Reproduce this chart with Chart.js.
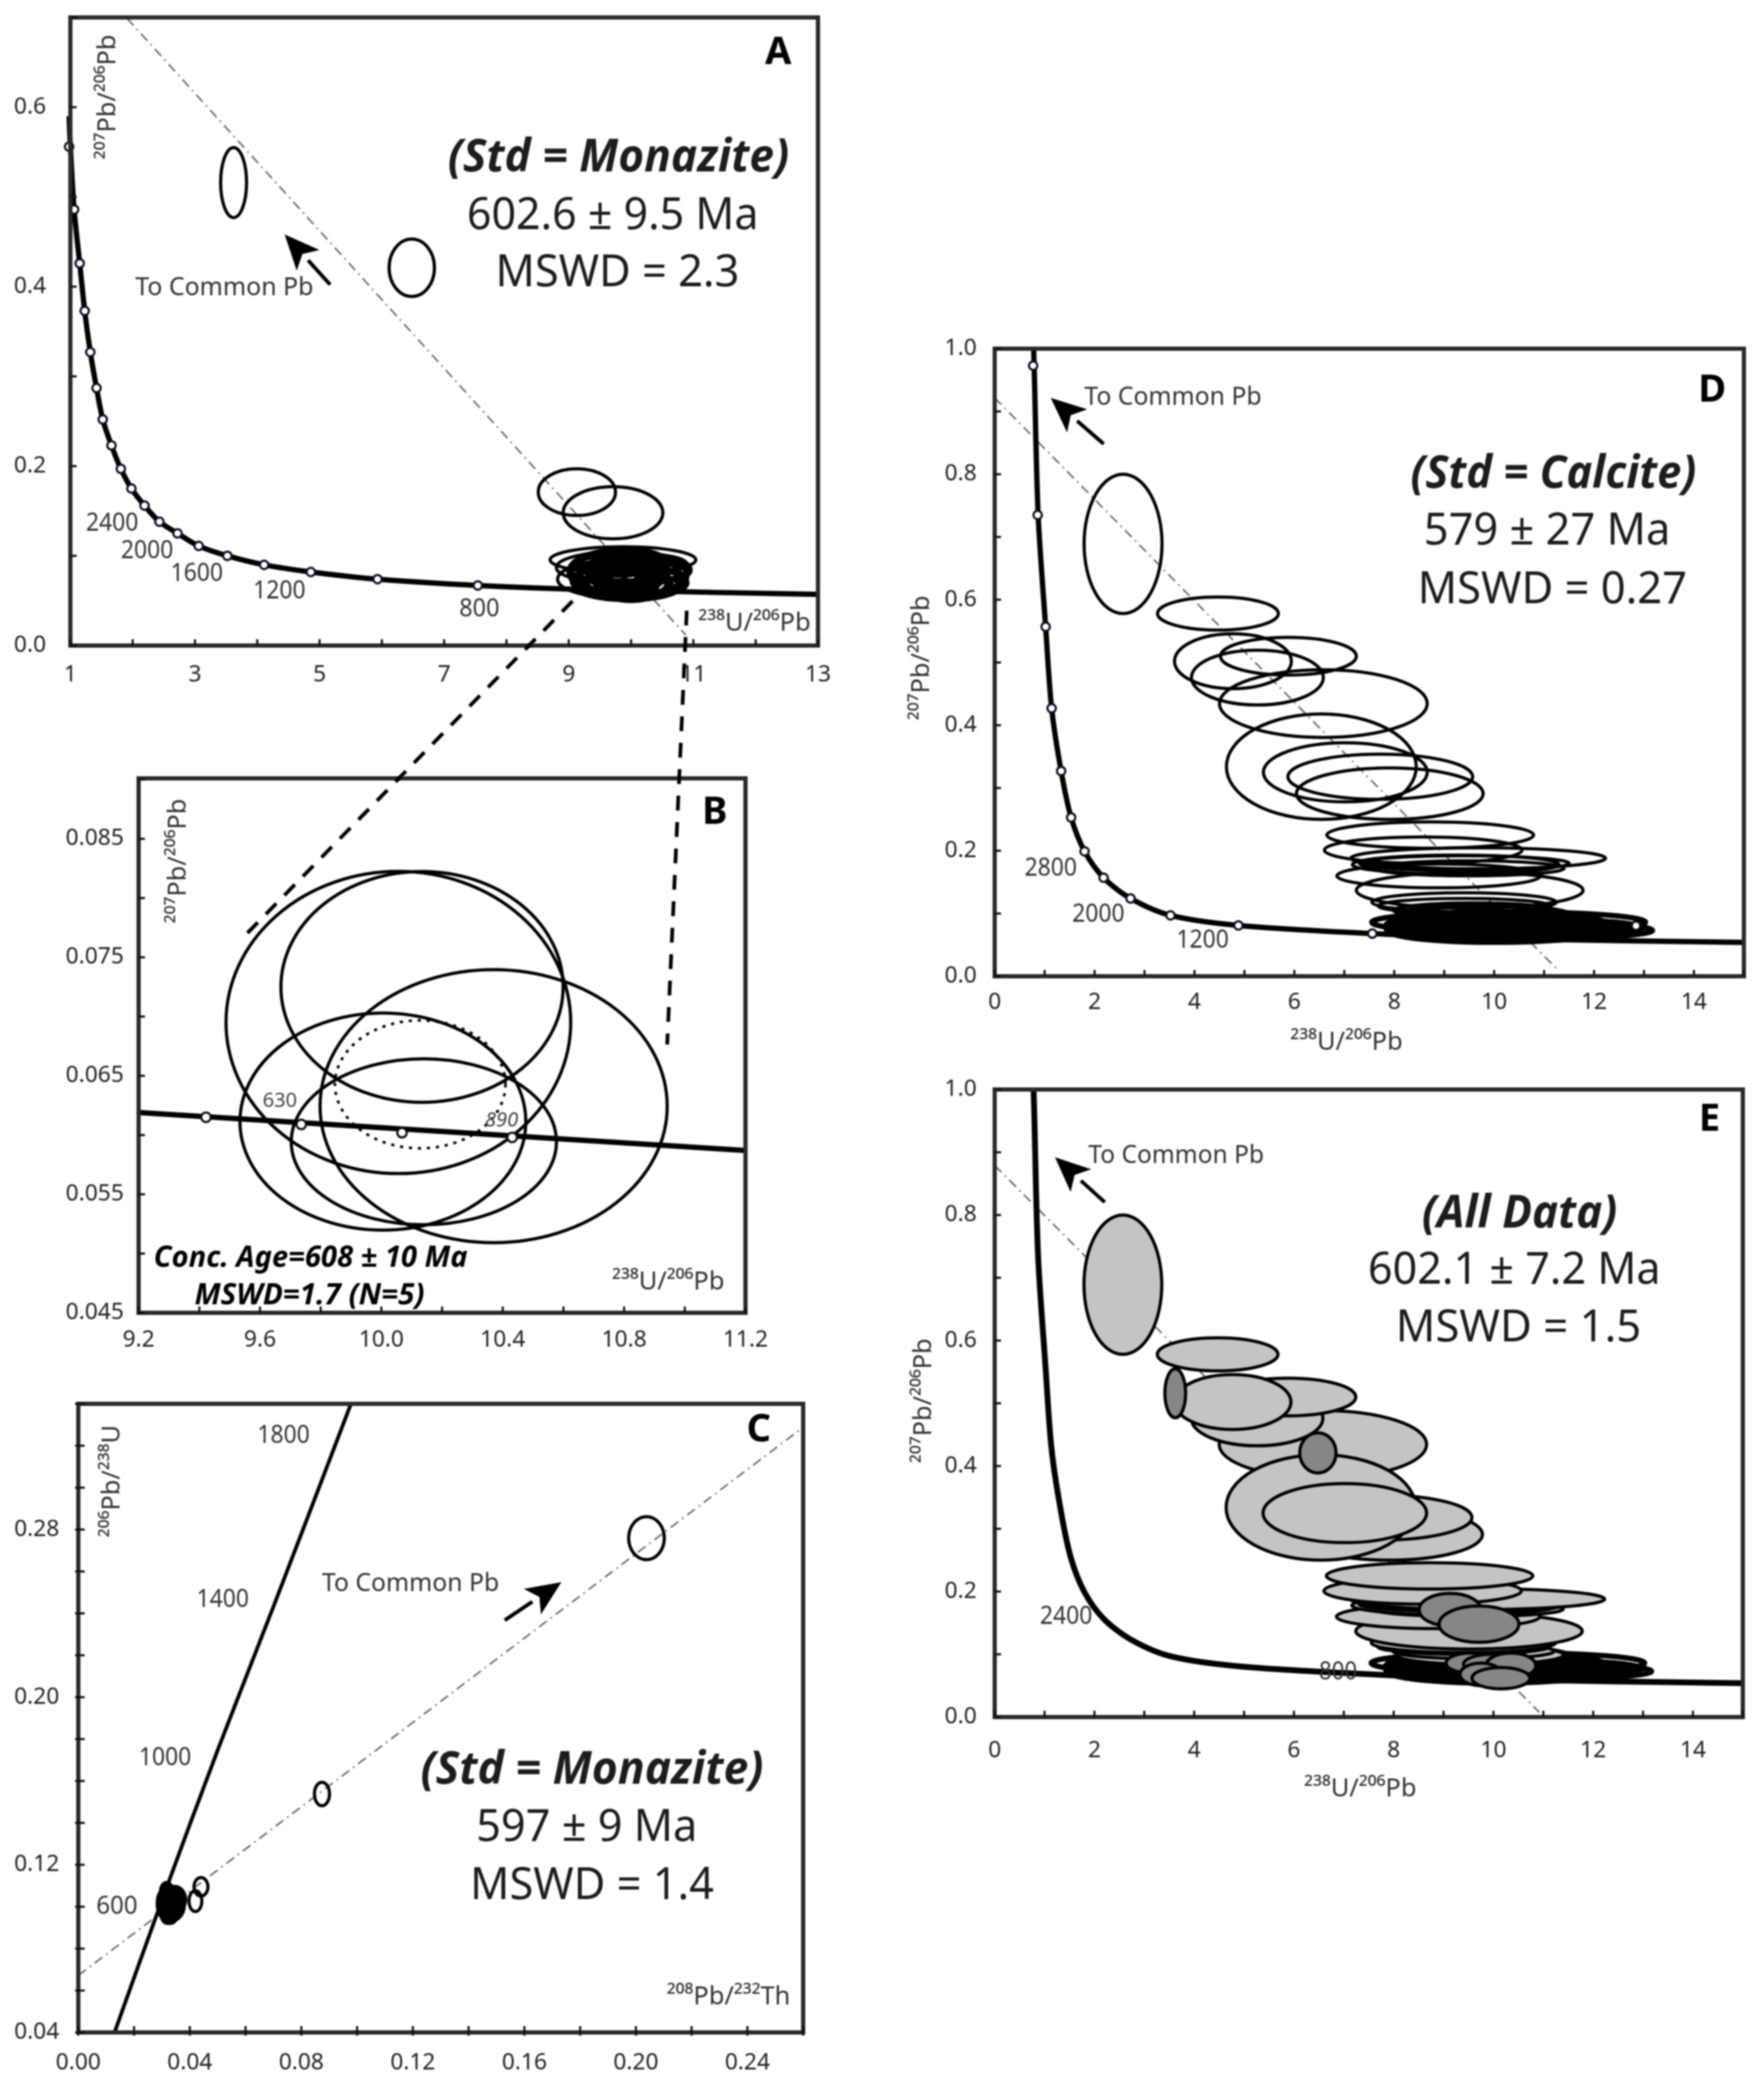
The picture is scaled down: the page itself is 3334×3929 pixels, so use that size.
<!DOCTYPE html>
<html>
<head>
<meta charset="utf-8">
<title>Concordia diagrams</title>
<script src="https://cdn.jsdelivr.net/npm/chart.js@4/dist/chart.umd.min.js"></script>
<style>
  html, body { margin: 0; background: #fff; }
  body { position: relative; width: 3334px; height: 3929px; overflow: hidden; }
  canvas { position: absolute; filter: blur(1.4px); }
  svg { position: absolute; left: 0; top: 0; filter: blur(1.4px); }
</style>
</head>
<body>
<canvas id="panelA"></canvas>
<canvas id="panelB"></canvas>
<canvas id="panelC"></canvas>
<canvas id="panelD"></canvas>
<canvas id="panelE"></canvas>
<svg width="3334" height="3929">
  <line x1="1082" y1="1136" x2="464" y2="1767" stroke="#000" stroke-width="7" stroke-dasharray="28 22"/>
  <line x1="1298" y1="1154" x2="1261" y2="1974" stroke="#000" stroke-width="7" stroke-dasharray="28 22"/>
</svg>
<script>
// Panel A -----------------------------------------------------------------
const aXLabels = ['1', '3', '5', '7', '9', '11', '13'];
const aYLabels = ['0.0', '0.2', '0.4', '0.6'];
const aCurveX = [0.98, 1.0, 1.06, 1.15, 1.23, 1.32, 1.42, 1.52, 1.66, 1.81, 1.98, 2.19, 2.43, 2.72, 3.06, 3.52, 4.11, 4.86, 5.93, 7.54, 9.5, 13];
const aCurveY = [0.59, 0.556, 0.486, 0.426, 0.373, 0.327, 0.287, 0.252, 0.223, 0.197, 0.175, 0.156, 0.138, 0.125, 0.111, 0.100, 0.090, 0.082, 0.074, 0.067, 0.062, 0.057];
const aMarkX = [0.98, 1.06, 1.15, 1.23, 1.32, 1.42, 1.52, 1.66, 1.81, 1.98, 2.19, 2.43, 2.72, 3.06, 3.52, 4.11, 4.86, 5.93, 7.54];
const aMarkY = [0.556, 0.486, 0.426, 0.373, 0.327, 0.287, 0.252, 0.223, 0.197, 0.175, 0.156, 0.138, 0.125, 0.111, 0.100, 0.090, 0.082, 0.074, 0.067];
const aLineX = [1.91, 10.88];
const aLineY = [0.699, 0.0116];
// ellipses: x, y, half width, half height
const aEllipses = [
  [3.62, 0.516, 0.208, 0.039],
  [6.48, 0.421, 0.364, 0.032],
  [9.13, 0.171, 0.62, 0.026],
  [9.71, 0.148, 0.80, 0.029]
];
const aClusterOuter = [
  [9.87, 0.0955, 1.17, 0.0147],
  [9.80, 0.074, 0.98, 0.021],
  [9.85, 0.087, 1.05, 0.018],
  [9.95, 0.080, 0.95, 0.025]
];
const aClusterInner = [
  [10.05, 0.078, 0.85, 0.024],
  [9.95, 0.072, 0.90, 0.018],
  [10.1, 0.085, 0.85, 0.016],
  [9.75, 0.082, 0.75, 0.024],
  [9.95, 0.066, 0.85, 0.015],
  [9.90, 0.090, 0.70, 0.018],
  [10.0, 0.075, 0.60, 0.025],
  [9.85, 0.076, 0.65, 0.020],
  [10.1, 0.070, 0.80, 0.016],
  [10.0, 0.083, 0.95, 0.013],
  [9.9, 0.068, 0.75, 0.012],
  [10.0, 0.091, 0.88, 0.011],
  [10.2, 0.077, 0.60, 0.020],
  [9.7, 0.072, 0.60, 0.016],
  [10.0, 0.080, 0.45, 0.016],
  [9.95, 0.072, 0.30, 0.012],
  [10.1, 0.080, 0.25, 0.010],
  [9.85, 0.086, 0.35, 0.008],
  [10.25, 0.086, 0.30, 0.008],
  [9.7, 0.078, 0.40, 0.012]
];

// Panel B -----------------------------------------------------------------
const bXLabels = ['9.2', '9.6', '10.0', '10.4', '10.8', '11.2'];
const bYLabels = ['0.045', '0.055', '0.065', '0.075', '0.085'];
const bCurveX = [9.2, 11.2];
const bCurveY = [0.0619, 0.0587];
const bMarkX = [9.422, 9.736, 10.068, 10.431];
const bMarkY = [0.0615, 0.0609, 0.0602, 0.0598];
const bEllipses = [
  [10.056, 0.0695, 0.568, 0.01275],
  [10.134, 0.0725, 0.465, 0.00974],
  [10.37, 0.06244, 0.572, 0.01152],
  [10.005, 0.06114, 0.471, 0.00916],
  [10.14, 0.05943, 0.437, 0.0070]
];
const bConcordia = [[10.128, 0.06428, 0.281, 0.0054]];

// Panel C -----------------------------------------------------------------
const cXLabels = ['0.00', '0.04', '0.08', '0.12', '0.16', '0.20', '0.24'];
const cYLabels = ['0.04', '0.12', '0.20', '0.28'];
const cCurveX = [0.0130, 0.0300, 0.0503, 0.0700, 0.0978];
const cCurveY = [0.04, 0.1031, 0.1758, 0.2432, 0.34];
const cLineX = [0, 0.26];
const cLineY = [0.0672, 0.3288];
const cEllipses = [
  [0.2038, 0.2759, 0.0064, 0.01027],
  [0.0874, 0.1538, 0.0027, 0.0056],
  [0.0440, 0.1095, 0.0025, 0.0044],
  [0.0420, 0.1027, 0.0023, 0.0050]
];
const cBlob = [
  [0.0317, 0.1075, 0.0022, 0.0040],
  [0.0325, 0.1015, 0.0042, 0.0085],
  [0.0335, 0.1005, 0.0045, 0.0072],
  [0.0345, 0.1035, 0.0040, 0.0062],
  [0.0320, 0.0975, 0.0025, 0.0055],
  [0.0330, 0.0960, 0.0025, 0.0040]
];

// Panels D and E ----------------------------------------------------------
const deXLabels = ['0', '2', '4', '6', '8', '10', '12', '14'];
const deYLabels = ['0.0', '0.2', '0.4', '0.6', '0.8', '1.0'];
const dCurveX = [0.78, 0.79, 0.87, 1.02, 1.14, 1.33, 1.53, 1.80, 2.18, 2.72, 3.52, 4.88, 7.56, 10, 15];
const dCurveY = [1.0, 0.973, 0.735, 0.557, 0.427, 0.327, 0.253, 0.199, 0.157, 0.124, 0.097, 0.081, 0.068, 0.060, 0.054];
const dMarkX = [0.77, 0.86, 1.02, 1.14, 1.33, 1.53, 1.80, 2.18, 2.72, 3.52, 4.88, 7.56, 12.84];
const dMarkY = [0.973, 0.735, 0.557, 0.427, 0.327, 0.253, 0.199, 0.157, 0.124, 0.097, 0.081, 0.068, 0.0806];
const dLineX = [0, 11.24];
const dLineY = [0.9217, 0.0128];
const deCluster = [
  [10.29, 0.086, 2.74, 0.0166],
  [10.40, 0.077, 2.57, 0.015],
  [10.51, 0.073, 2.66, 0.0136],
  [10.07, 0.0806, 2.24, 0.0226],
  [10.00, 0.073, 2.13, 0.0188],
  [9.84, 0.092, 1.79, 0.021],
  [10.07, 0.0655, 1.90, 0.0105],
  [10.2, 0.082, 2.2, 0.012],
  [10.1, 0.075, 1.8, 0.010],
  [9.9, 0.085, 1.6, 0.010],
  [10.3, 0.068, 2.1, 0.008],
  [10.0, 0.080, 1.2, 0.012],
  [10.2, 0.072, 1.3, 0.008]
];
// listed from the bottom layer up, panel E fills them in this order
const deEllipses = [
  [9.73, 0.099, 1.68, 0.015],
  [9.60, 0.105, 1.62, 0.012],
  [9.40, 0.112, 1.72, 0.012],
  [9.40, 0.118, 1.85, 0.015],
  [9.51, 0.137, 2.27, 0.0286],
  [8.89, 0.160, 2.04, 0.019],
  [9.50, 0.172, 1.90, 0.012],
  [9.23, 0.178, 2.07, 0.015],
  [9.40, 0.180, 2.10, 0.012],
  [9.68, 0.188, 2.55, 0.0166],
  [8.58, 0.201, 1.98, 0.021],
  [8.72, 0.225, 2.07, 0.021],
  [7.91, 0.291, 1.87, 0.041],
  [7.72, 0.318, 1.85, 0.036],
  [6.58, 0.4345, 2.08, 0.054],
  [5.26, 0.476, 1.32, 0.0437],
  [5.88, 0.510, 1.36, 0.030],
  [4.77, 0.502, 1.17, 0.0437],
  [6.54, 0.334, 1.90, 0.084],
  [7.02, 0.325, 1.64, 0.047],
  [4.47, 0.578, 1.21, 0.0264],
  [2.57, 0.689, 0.78, 0.111]
];
const eLineX = [0, 10.92];
const eLineY = [0.879, 0.0075];
const eDarkCluster = [
  [9.55, 0.086, 0.50, 0.016],
  [9.95, 0.084, 0.55, 0.016],
  [10.35, 0.082, 0.50, 0.020],
  [9.75, 0.068, 0.42, 0.018],
  [10.15, 0.062, 0.58, 0.017]
];

const FONT = '"Noto Sans", "Open Sans", sans-serif';
const TICK_FONT = { family: FONT, size: 43 };
const MARGIN = { left: 170, top: 30, right: 60, bottom: 170 };

const pts = (xs, ys) => xs.map((x, i) => ({ x: x, y: ys[i] }));
const rows = list => list.map(r => ({ x: r[0], y: r[1], rx: r[2], ry: r[3] }));

function curve(xs, ys, width) {
  return { data: pts(xs, ys), showLine: true, pointRadius: 0, borderColor: '#000', borderWidth: width,
           tension: 0.3, clip: false, order: 5 };
}
function chord(xs, ys) {
  return { data: pts(xs, ys), showLine: true, pointRadius: 0, borderColor: '#666', borderWidth: 3,
           borderDash: [18, 9, 3, 9], order: 6 };
}
function marks(xs, ys, r) {
  return { data: pts(xs, ys), showLine: false, pointRadius: r, pointBackgroundColor: '#fff',
           pointBorderColor: '#0a0a20', pointBorderWidth: 4, clip: false, order: 1 };
}
function ellipses(list, opts) {
  return Object.assign({ data: rows(list), ellipse: true, pointRadius: 0, showLine: false,
                         ellipseFill: null, ellipseWidth: 6, ellipseDash: [], order: 3 }, opts);
}

// Draws the ellipse datasets, the frame, the inside ticks, arrows and texts
const panelPlugin = {
  id: 'panel',
  afterDatasetDraw(chart, args) {
    const ds = chart.data.datasets[args.index];
    if (!ds.ellipse) return;
    const ctx = chart.ctx, sx = chart.scales.x, sy = chart.scales.y;
    ctx.save();
    ds.data.forEach(e => {
      const px = sx.getPixelForValue(e.x), py = sy.getPixelForValue(e.y);
      const rx = Math.abs(sx.getPixelForValue(e.x + e.rx) - px);
      const ry = Math.abs(sy.getPixelForValue(e.y + e.ry) - py);
      ctx.beginPath();
      ctx.ellipse(px, py, rx, ry, 0, 0, Math.PI * 2);
      if (ds.ellipseFill) { ctx.fillStyle = ds.ellipseFill; ctx.fill(); }
      ctx.strokeStyle = '#000';
      ctx.lineWidth = ds.ellipseWidth;
      ctx.setLineDash(ds.ellipseDash);
      ctx.stroke();
    });
    ctx.restore();
  },
  afterDraw(chart) {
    const ctx = chart.ctx, a = chart.chartArea, cfg = chart.options.panel;
    ctx.save();
    // frame and ticks
    ctx.strokeStyle = '#2a2a2a';
    ctx.lineWidth = 8;
    ctx.strokeRect(a.left, a.top, a.right - a.left, a.bottom - a.top);
    ctx.strokeStyle = '#111';
    ctx.lineWidth = 4;
    chart.scales.x.ticks.forEach(t => {
      const p = chart.scales.x.getPixelForValue(t.value);
      ctx.beginPath(); ctx.moveTo(p, a.bottom + cfg.tickOut); ctx.lineTo(p, a.bottom - 12); ctx.stroke();
    });
    chart.scales.y.ticks.forEach(t => {
      const p = chart.scales.y.getPixelForValue(t.value);
      ctx.beginPath(); ctx.moveTo(a.left - cfg.tickOut, p); ctx.lineTo(a.left + 12, p); ctx.stroke();
    });
    // texts, page coordinates
    ctx.textAlign = 'center';
    ctx.textBaseline = 'middle';
    (cfg.texts || []).forEach(t => {
      ctx.save();
      ctx.translate(t.x - cfg.box.left, t.y - cfg.box.top);
      if (t.rot) ctx.rotate(-Math.PI / 2);
      ctx.font = (t.style || '') + ' ' + t.size + 'px ' + FONT;
      ctx.fillStyle = t.color || '#1c1c1c';
      if (t.w) ctx.fillText(t.s, 0, 0, t.w); else ctx.fillText(t.s, 0, 0);
      ctx.restore();
    });
    // arrows, page coordinates
    (cfg.arrows || []).forEach(r => {
      const x1 = r[0] - cfg.box.left, y1 = r[1] - cfg.box.top, x2 = r[2] - cfg.box.left, y2 = r[3] - cfg.box.top;
      const ang = Math.atan2(y2 - y1, x2 - x1), len = 66, wid = 29;
      const bx = x2 - len * Math.cos(ang), by = y2 - len * Math.sin(ang);
      ctx.strokeStyle = '#000';
      ctx.lineWidth = 7;
      ctx.beginPath(); ctx.moveTo(x1, y1); ctx.lineTo(bx, by); ctx.stroke();
      ctx.fillStyle = '#000';
      ctx.beginPath();
      ctx.moveTo(x2, y2);
      ctx.lineTo(bx - wid * Math.sin(ang), by + wid * Math.cos(ang));
      ctx.lineTo(bx + 16 * Math.cos(ang), by + 16 * Math.sin(ang));
      ctx.lineTo(bx + wid * Math.sin(ang), by - wid * Math.cos(ang));
      ctx.closePath();
      ctx.fill();
    });
    ctx.restore();
  }
};

function panel(id, p) {
  const el = document.getElementById(id);
  const box = { left: p.frame[0] - MARGIN.left, top: p.frame[1] - MARGIN.top };
  el.width = p.frame[2] - p.frame[0] + MARGIN.left + MARGIN.right;
  el.height = p.frame[3] - p.frame[1] + MARGIN.top + MARGIN.bottom;
  el.style.left = box.left + 'px';
  el.style.top = box.top + 'px';
  const axis = (ax, labels, size, pad, decimals) => ({
    type: 'linear', min: ax[0], max: ax[1], grid: { display: false }, border: { display: false },
    ticks: {
      stepSize: ax[2], font: TICK_FONT, color: '#222', padding: pad, autoSkip: false, maxRotation: 0, minRotation: 0,
      includeBounds: false,
      callback: v => { const s = v.toFixed(decimals); return labels.includes(s) ? s : ''; }
    },
    afterFit: s => {
      if (s.isHorizontal()) s.height = size; else s.width = size;
      s.paddingLeft = s.paddingRight = s.paddingTop = s.paddingBottom = 0;
    }
  });
  return new Chart(el, {
    type: 'scatter',
    data: { datasets: p.datasets },
    plugins: [panelPlugin],
    options: {
      responsive: false, animation: false, devicePixelRatio: 1,
      layout: { padding: { top: MARGIN.top, right: MARGIN.right, left: 0, bottom: 0 } },
      plugins: { legend: { display: false }, tooltip: { enabled: false } },
      scales: {
        x: axis(p.x, p.xLabels, MARGIN.bottom, p.xPad, p.xDec),
        y: axis(p.y, p.yLabels, MARGIN.left, p.yPad, p.yDec)
      },
      panel: { box: box, texts: p.texts, arrows: p.arrows, tickOut: p.tickOut || 0 }
    }
  });
}

const head = { style: 'italic bold', size: 86 };
const main = { size: 84 };
const small = { size: 47, color: '#333' };
const title = { size: 48, color: '#333' };
const letter = { style: 'bold', size: 72, color: '#000' };
const t = (s, x, y, style, w, rot) => Object.assign({ s: s, x: x, y: y, w: w, rot: rot }, style);

panel('panelA', {
  frame: [133, 33, 1546, 1220], x: [1, 13, 1], y: [0, 0.7, 0.1], xLabels: aXLabels, yLabels: aYLabels,
  xPad: 22, yPad: 38, xDec: 0, yDec: 1,
  datasets: [
    chord(aLineX, aLineY), curve(aCurveX, aCurveY, 10), marks(aMarkX, aMarkY, 8),
    ellipses(aEllipses), ellipses(aClusterOuter), ellipses(aClusterInner, { ellipseWidth: 9 })
  ],
  arrows: [[624, 538, 538, 443]],
  texts: [
    t('A', 1471, 100, letter),
    t('(Std = Monazite)', 1169, 299, head, 645),
    t('602.6 ± 9.5 Ma', 1158, 409, main, 551),
    t('MSWD = 2.3', 1167, 517, main, 461),
    t('To Common Pb', 424, 545, small, 337),
    t('²⁰⁷Pb/²⁰⁶Pb', 204, 183, title, 254, true),
    t('²³⁸U/²⁰⁶Pb', 1426, 1178, title, 230),
    t('2400', 212, 990, small, 99), t('2000', 278, 1042, small, 99), t('1600', 372, 1085, small, 99),
    t('1200', 528, 1118, small, 99), t('800', 906, 1152, small, 76)
  ]
});

panel('panelB', {
  frame: [262, 1471, 1409, 2481], x: [9.2, 11.2, 0.2], y: [0.045, 0.0901, 0.005], xLabels: bXLabels, yLabels: bYLabels,
  xPad: 18, yPad: 20, xDec: 1, yDec: 3,
  datasets: [
    curve(bCurveX, bCurveY, 10), marks(bMarkX, bMarkY, 9),
    ellipses(bEllipses), ellipses(bConcordia, { ellipseDash: [6, 11], ellipseWidth: 5 })
  ],
  texts: [
    t('B', 1351, 1536, letter),
    t('²⁰⁷Pb/²⁰⁶Pb', 337, 1627, title, 257, true),
    t('²³⁸U/²⁰⁶Pb', 1263, 2423, title, 228),
    t('630', 529, 2081, { size: 38, color: '#444' }, 74),
    t('890', 948, 2118, { style: 'italic', size: 38, color: '#444' }, 74),
    t('Conc. Age=608 ± 10 Ma', 587, 2378, { style: 'italic bold', size: 56, color: '#000' }, 593),
    t('MSWD=1.7 (N=5)', 585, 2449, { style: 'italic bold', size: 56, color: '#000' }, 439)
  ]
});

panel('panelC', {
  frame: [148, 2653, 1518, 3841], x: [0, 0.26, 0.02], y: [0.04, 0.34, 0.02], xLabels: cXLabels, yLabels: cYLabels,
  xPad: 24, yPad: 28, xDec: 2, yDec: 2, tickOut: 6,
  datasets: [
    chord(cLineX, cLineY), curve(cCurveX, cCurveY, 7),
    ellipses(cEllipses), ellipses(cBlob, { ellipseFill: '#000' })
  ],
  arrows: [[954, 3062, 1061, 2990]],
  texts: [
    t('C', 1434, 2703, letter),
    t('(Std = Monazite)', 1119, 3346, head, 648),
    t('597 ± 9 Ma', 1109, 3455, main, 418),
    t('MSWD = 1.4', 1119, 3565, main, 461),
    t('To Common Pb', 776, 2994, small, 335),
    t('²⁰⁶Pb/²³⁸U', 212, 2799, title, 229, true),
    t('²⁰⁸Pb/²³²Th', 1377, 3774, title, 249),
    t('1800', 536, 2714, small, 99), t('1400', 421, 3024, small, 99), t('1000', 312, 3323, small, 99),
    t('600', 221, 3604, small, 78)
  ]
});

panel('panelD', {
  frame: [1880, 659, 3296, 1845], x: [0, 15, 1], y: [0, 1, 0.1], xLabels: deXLabels, yLabels: deYLabels,
  xPad: 16, yPad: 26, xDec: 0, yDec: 1,
  datasets: [
    chord(dLineX, dLineY), curve(dCurveX, dCurveY, 10), marks(dMarkX, dMarkY, 8),
    ellipses(deCluster, { ellipseWidth: 10 }), ellipses(deEllipses)
  ],
  arrows: [[2086, 839, 1986, 752]],
  texts: [
    t('D', 3236, 738, letter),
    t('(Std = Calcite)', 2936, 897, head, 540),
    t('579 ± 27 Ma', 2924, 1005, main, 466),
    t('MSWD = 0.27', 2934, 1116, main, 509),
    t('To Common Pb', 2217, 752, small, 335),
    t('²⁰⁷Pb/²⁰⁶Pb', 1742, 1243, title, 255, true),
    t('²³⁸U/²⁰⁶Pb', 2545, 1970, title, 232),
    t('2800', 1986, 1642, small, 99), t('2000', 2076, 1729, small, 99), t('1200', 2273, 1778, small, 99)
  ]
});

panel('panelE', {
  frame: [1880, 2059, 3294, 3245], x: [0, 15, 1], y: [0, 1, 0.1], xLabels: deXLabels, yLabels: deYLabels,
  xPad: 30, yPad: 26, xDec: 0, yDec: 1,
  datasets: [
    chord(eLineX, eLineY), curve(dCurveX, dCurveY, 11),
    ellipses(deCluster, { ellipseWidth: 10, order: 4 }),
    ellipses(deEllipses, { ellipseFill: '#c4c4c4', order: 3 }),
    ellipses(aEllipses, { ellipseFill: '#868686', order: 2 }),
    ellipses(eDarkCluster, { ellipseFill: '#868686', order: 2 })
  ],
  arrows: [[2088, 2272, 1994, 2187]],
  texts: [
    t('E', 3231, 2116, letter),
    t('(All Data)', 2872, 2295, head, 369),
    t('602.1 ± 7.2 Ma', 2862, 2402, main, 553),
    t('MSWD = 1.5', 2870, 2511, main, 464),
    t('To Common Pb', 2223, 2185, small, 332),
    t('²⁰⁷Pb/²⁰⁶Pb', 1746, 2647, title, 254, true),
    t('²³⁸U/²⁰⁶Pb', 2571, 3381, title, 232),
    t('2400', 2015, 3056, small, 99), t('800', 2529, 3161, small, 72)
  ]
});
</script>
</body>
</html>
